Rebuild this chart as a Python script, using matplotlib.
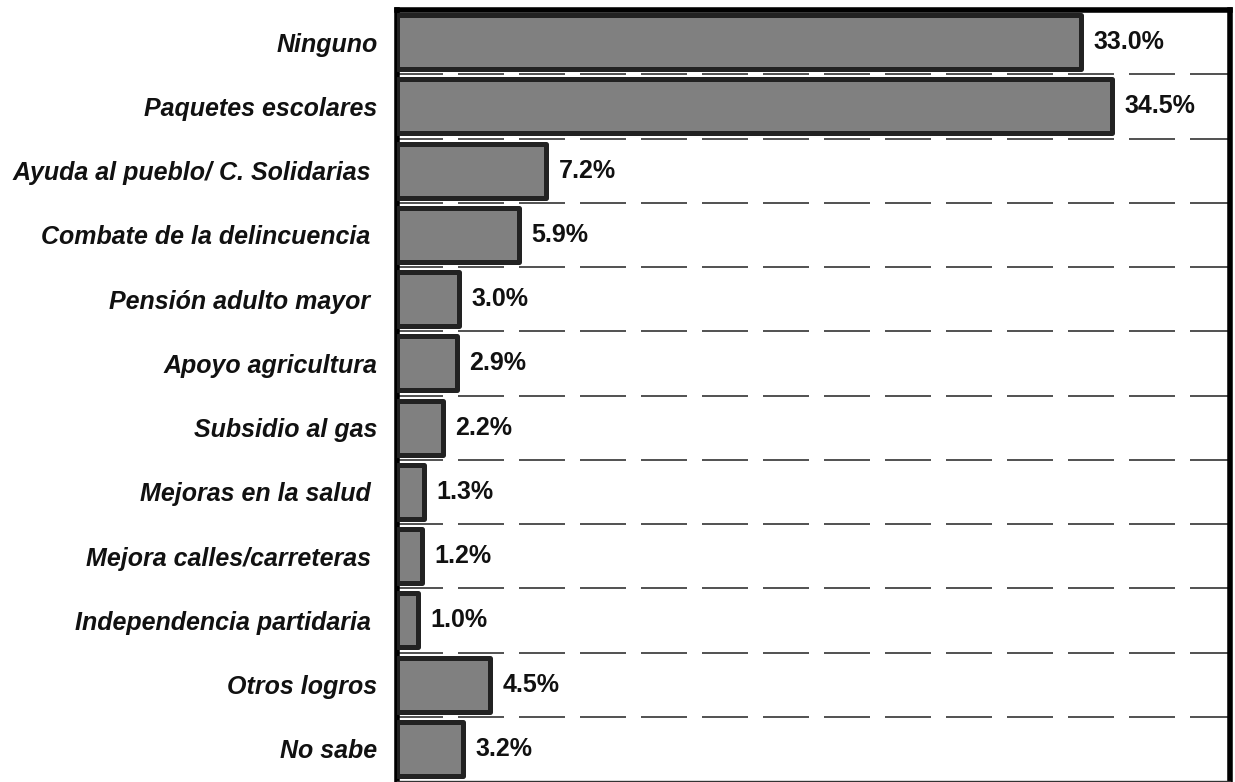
import matplotlib.pyplot as plt
import numpy as np

plt.rcParams['font.family'] = ['Liberation Sans', 'DejaVu Sans']

categorias = ["Ninguno", "Paquetes escolares", "Ayuda al pueblo/ C. Solidarias ",
              "Combate de la delincuencia ", "Pensión adulto mayor ", "Apoyo agricultura",
              "Subsidio al gas", "Mejoras en la salud ", "Mejora calles/carreteras ",
              "Independencia partidaria ", "Otros logros", "No sabe"]
valores = [33.0, 34.5, 7.2, 5.9, 3.0, 2.9, 2.2, 1.3, 1.2, 1.0, 4.5, 3.2]

fig = plt.figure(figsize=(12.35, 7.82), dpi=100)
ax = fig.add_axes([397/1235, 1 - 781/782, (1230 - 397)/1235, (781 - 10)/782])

y = np.arange(len(categorias))
barras = ax.barh(y, valores, height=0.84, color='#808080', edgecolor='#222222',
                 linewidth=3.6, zorder=3)
for b in barras:
    b.set_joinstyle('round')

# lineas punteadas entre categorias
for k in range(len(categorias) - 1):
    ax.axhline(k + 0.5, color='#333333', linewidth=1.2, dashes=(27.6, 9), zorder=1)

for yi, v in zip(y, valores):
    ax.text(v + 0.6, yi, "%.1f%%" % v, va='center', ha='left',
            fontsize=18, fontweight='bold', color='#111111', zorder=4)

ax.set_xlim(0, 40.2)
ax.set_ylim(len(categorias) - 0.5, -0.5)
ax.set_xticks([])
ax.set_yticks(y)
ax.set_yticklabels(categorias, fontsize=18, fontweight='bold', fontstyle='italic',
                   color='#111111')
ax.tick_params(axis='y', length=0, pad=14)

for lado in ['top', 'left', 'right']:
    ax.spines[lado].set_linewidth(4)
    ax.spines[lado].set_color('black')
ax.spines['bottom'].set_linewidth(1)
ax.spines['bottom'].set_color('#333333')

plt.savefig('out.png', dpi=100)
